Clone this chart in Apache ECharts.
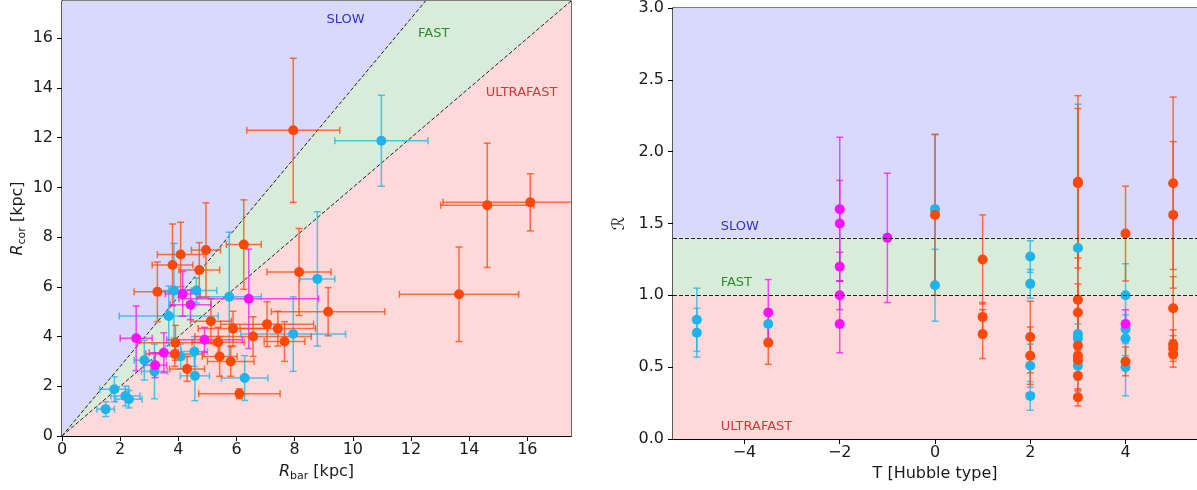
<!DOCTYPE html>
<html>
<head>
<meta charset="utf-8">
<script src="https://cdn.jsdelivr.net/npm/echarts@6/dist/echarts.min.js"></script>
<style>
  html, body { margin: 0; padding: 0; background: #fff; }
  #chart { width: 1197px; height: 490px; }
</style>
</head>
<body>
<div id="chart"></div>
<script>
// ---- Left panel: corotation radius vs bar radius, rows are [Rbar, Rcor, errRbar, errRcor] (kpc)
const barBlue = [
  [1.50, 1.08, 0.30, 0.30], [1.80, 1.88, 0.50, 0.50], [2.18, 1.61, 0.50, 0.40],
  [2.30, 1.48, 0.45, 0.35], [2.83, 3.05, 0.35, 0.80], [3.18, 2.60, 0.45, 1.10],
  [3.67, 4.83, 1.70, 1.20], [3.85, 5.85, 0.60, 1.90], [4.08, 3.20, 0.50, 0.50],
  [4.55, 3.40, 0.45, 0.60], [4.57, 2.42, 0.50, 1.00], [4.62, 5.85, 0.70, 0.50],
  [5.75, 5.60, 1.10, 2.60], [6.28, 2.33, 0.80, 0.90], [7.95, 4.10, 1.80, 1.50],
  [8.78, 6.32, 0.60, 2.70], [10.98, 11.88, 1.60, 1.83]
];
const barOrange = [
  [3.28, 5.80, 0.80, 1.20], [3.80, 6.88, 0.70, 1.65], [3.90, 3.75, 1.30, 0.70],
  [3.88, 3.30, 1.00, 0.50], [4.08, 7.30, 0.80, 1.30], [4.30, 2.70, 0.60, 0.50],
  [4.72, 6.68, 0.70, 1.10], [4.95, 7.48, 0.50, 1.90], [5.12, 4.62, 0.70, 0.90],
  [5.37, 3.77, 0.90, 0.60], [5.42, 3.20, 0.60, 0.80], [5.80, 3.00, 0.80, 0.60],
  [5.88, 4.32, 1.20, 0.70], [6.10, 1.70, 1.40, 0.20], [6.25, 7.70, 0.60, 1.80],
  [6.57, 4.00, 2.00, 0.80], [7.05, 4.50, 1.60, 0.90], [7.42, 4.32, 1.30, 0.70],
  [7.65, 3.80, 0.70, 0.80], [8.15, 6.60, 1.10, 1.75], [9.15, 5.00, 1.95, 0.97],
  [7.95, 12.30, 1.60, 2.90], [13.65, 5.70, 2.05, 1.90], [14.62, 9.28, 1.60, 2.50],
  [16.10, 9.40, 3.00, 1.15]
];
const barMagenta = [
  [2.55, 3.93, 0.55, 1.30], [3.20, 2.85, 0.40, 0.50], [3.50, 3.35, 0.50, 0.80],
  [4.15, 5.72, 0.60, 0.90], [4.42, 5.28, 0.70, 0.60], [4.90, 3.87, 1.30, 0.50],
  [6.42, 5.52, 2.40, 2.00]
];

// ---- Right panel: rows are [Hubble type T, ratio R, errR]
const typeBlue = [
  [-5, 0.83, 0.22], [-5, 0.74, 0.17], [-3.5, 0.80, 0.10], [0, 1.60, 0.52], [0, 1.07, 0.25],
  [2, 1.27, 0.11], [2, 1.08, 0.10], [2, 0.51, 0.15], [2, 0.30, 0.10],
  [3, 1.33, 1.00], [3, 0.73, 0.15], [3, 0.70, 0.10], [3, 0.51, 0.10],
  [4, 1.00, 0.22], [4, 0.765, 0.10], [4, 0.70, 0.12], [4, 0.50, 0.20]
];
const typeOrange = [
  [-3.5, 0.67, 0.15], [0, 1.56, 0.56], [1, 1.25, 0.31], [1, 0.85, 0.10], [1, 0.73, 0.17],
  [2, 0.71, 0.25], [2, 0.58, 0.20],
  [3, 1.79, 0.60], [3, 1.78, 0.52], [3, 0.97, 0.35], [3, 0.88, 0.20], [3, 0.65, 0.10],
  [3, 0.58, 0.12], [3, 0.55, 0.10], [3, 0.44, 0.10], [3, 0.29, 0.06],
  [4, 1.43, 0.33], [4, 0.54, 0.10],
  [5, 1.78, 0.60], [5, 1.56, 0.51], [5, 0.91, 0.22], [5, 0.66, 0.10], [5, 0.63, 0.09], [5, 0.59, 0.09]
];
const typeMagenta = [
  [-3.5, 0.88, 0.23], [-2, 1.60, 0.50], [-2, 1.50, 0.30], [-2, 1.20, 0.10],
  [-2, 1.00, 0.10], [-2, 0.80, 0.20], [-1, 1.40, 0.45], [4, 0.80, 0.10]
];

// ---- Regime boundaries (R = Rcor / Rbar) and axis ticks
const slowLimit = 1.4;
const fastLimit = 1.0;
const ratioMax = 3.0;
const radiusMax = 17.5;
const radiusTicks = [0, 2, 4, 6, 8, 10, 12, 14, 16];
const typeTicks = [-4, -2, 0, 2, 4];
const ratioTicks = [0, 0.5, 1.0, 1.5, 2.0, 2.5, 3.0];

const FONT = 'DejaVu Sans';
const C_BLUE = '#1cb4ea', C_ORANGE = '#ff4808', C_MAGENTA = '#ff10ff';
const F_SLOW = '#d9d9fb', F_FAST = '#d9ebd9', F_ULTRA = '#fdd9d9';

const chart = echarts.init(document.getElementById('chart'), null, { renderer: 'canvas' });

function axisCommon() {
  return {
    type: 'value',
    axisLine: { show: true, onZero: false, lineStyle: { color: '#000', width: 1.2 } },
    splitLine: { show: false },
    nameTextStyle: { fontFamily: FONT, fontSize: 16, color: '#1a1a1a' }
  };
}

// error bars drawn with caps; xy = true draws both directions
function errorBarSeries(data, color, xi, yi, xy) {
  return {
    type: 'custom',
    xAxisIndex: xi, yAxisIndex: yi,
    data: data,
    encode: { x: 0, y: 1 },
    clip: true,
    z: 3,
    renderItem: function (params, api) {
      const x = api.value(0), y = api.value(1);
      const cap = 3.5;
      const style = { stroke: color, lineWidth: 1.5, opacity: 0.75 };
      const kids = [];
      if (xy) {
        const ex = api.value(2), ey = api.value(3);
        const l = api.coord([x - ex, y]), r = api.coord([x + ex, y]);
        const t = api.coord([x, y + ey]), b = api.coord([x, y - ey]);
        kids.push({ type: 'line', shape: { x1: l[0], y1: l[1], x2: r[0], y2: r[1] }, style });
        kids.push({ type: 'line', shape: { x1: l[0], y1: l[1] - cap, x2: l[0], y2: l[1] + cap }, style });
        kids.push({ type: 'line', shape: { x1: r[0], y1: r[1] - cap, x2: r[0], y2: r[1] + cap }, style });
        kids.push({ type: 'line', shape: { x1: t[0], y1: t[1], x2: b[0], y2: b[1] }, style });
        kids.push({ type: 'line', shape: { x1: t[0] - cap, y1: t[1], x2: t[0] + cap, y2: t[1] }, style });
        kids.push({ type: 'line', shape: { x1: b[0] - cap, y1: b[1], x2: b[0] + cap, y2: b[1] }, style });
      } else {
        const ey = api.value(2);
        const t = api.coord([x, y + ey]), b = api.coord([x, y - ey]);
        kids.push({ type: 'line', shape: { x1: t[0], y1: t[1], x2: b[0], y2: b[1] }, style });
        kids.push({ type: 'line', shape: { x1: t[0] - cap, y1: t[1], x2: t[0] + cap, y2: t[1] }, style });
        kids.push({ type: 'line', shape: { x1: b[0] - cap, y1: b[1], x2: b[0] + cap, y2: b[1] }, style });
      }
      return { type: 'group', children: kids };
    }
  };
}

function pointSeries(data, color, xi, yi) {
  return {
    type: 'scatter',
    xAxisIndex: xi, yAxisIndex: yi,
    data: data,
    encode: { x: 0, y: 1 },
    symbol: 'circle',
    symbolSize: 10,
    itemStyle: { color: color, opacity: 1 },
    z: 4,
    silent: true
  };
}

// regime wedges in the Rbar–Rcor plane, bounded by the lines Rcor = k * Rbar
const wedges = [
  { pts: [[0, 0], [0, radiusMax], [radiusMax / slowLimit, radiusMax]], fill: F_SLOW },
  { pts: [[0, 0], [radiusMax / slowLimit, radiusMax], [radiusMax / fastLimit, radiusMax]], fill: F_FAST },
  { pts: [[0, 0], [radiusMax, radiusMax], [radiusMax, 0]], fill: F_ULTRA }
];

function regimeLabel(coord, text, color, align) {
  return {
    coord: coord, value: text, symbol: 'circle', symbolSize: 0,
    label: { show: true, position: 'inside', formatter: text, color: color,
             fontFamily: FONT, fontSize: 13, align: align || 'center' }
  };
}

const subRich = {
  i: { fontFamily: FONT, fontSize: 16, fontStyle: 'italic', color: '#1a1a1a', lineHeight: 18, padding: [0, 0, 3, 0], verticalAlign: 'top' },
  n: { fontFamily: FONT, fontSize: 16, color: '#1a1a1a', lineHeight: 18, padding: [0, 0, 3, 0], verticalAlign: 'top' },
  s: { fontFamily: FONT, fontSize: 11, color: '#1a1a1a', lineHeight: 11, verticalAlign: 'bottom' }
};

const option = {
  animation: false,
  backgroundColor: '#fff',
  grid: [
    { left: 62, top: 1, width: 509, height: 435, show: true, borderColor: '#000', borderWidth: 1.2, backgroundColor: 'transparent' },
    { left: 673, top: 8, width: 525, height: 431, show: true, borderColor: '#000', borderWidth: 1.2, backgroundColor: 'transparent' }
  ],
  xAxis: [
    Object.assign(axisCommon(), {
      gridIndex: 0, min: 0, max: radiusMax,
      axisTick: { show: true, length: 5, customValues: radiusTicks, lineStyle: { color: '#000', width: 1 } },
      axisLabel: { customValues: radiusTicks, fontFamily: FONT, fontSize: 16, color: '#1a1a1a', margin: 6 },
      name: '{i|R}{s|bar}{n| [kpc]}', nameLocation: 'middle', nameGap: 28,
      nameTextStyle: { fontFamily: FONT, fontSize: 16, color: '#1a1a1a', rich: subRich }
    }),
    Object.assign(axisCommon(), {
      gridIndex: 1, min: -5.5, max: 5.5,
      axisTick: { show: true, length: 5, customValues: typeTicks, lineStyle: { color: '#000', width: 1 } },
      axisLabel: { customValues: typeTicks, fontFamily: FONT, fontSize: 16, color: '#1a1a1a', margin: 6,
                   formatter: v => String(v).replace('-', '\u2212') },
      name: 'T [Hubble type]', nameLocation: 'middle', nameGap: 25
    })
  ],
  yAxis: [
    Object.assign(axisCommon(), {
      gridIndex: 0, min: 0, max: radiusMax,
      axisTick: { show: true, length: 5, customValues: radiusTicks, lineStyle: { color: '#000', width: 1 } },
      axisLabel: { customValues: radiusTicks, fontFamily: FONT, fontSize: 16, color: '#1a1a1a', margin: 9 },
      name: '{i|R}{s|cor}{n| [kpc]}', nameLocation: 'middle', nameGap: 32,
      nameTextStyle: { fontFamily: FONT, fontSize: 16, color: '#1a1a1a', rich: subRich }
    }),
    Object.assign(axisCommon(), {
      gridIndex: 1, min: 0, max: ratioMax,
      axisTick: { show: true, length: 5, customValues: ratioTicks, lineStyle: { color: '#000', width: 1 } },
      axisLabel: { customValues: ratioTicks, fontFamily: FONT, fontSize: 16, color: '#1a1a1a', margin: 9,
                   formatter: v => v.toFixed(1) },
      name: '\u211B', nameLocation: 'middle', nameGap: 45,
      nameTextStyle: { fontFamily: FONT, fontSize: 17, color: '#1a1a1a' }
    })
  ],
  series: [
    // left: regime wedges
    {
      type: 'custom', xAxisIndex: 0, yAxisIndex: 0, z: 1, silent: true, clip: true,
      data: wedges.map((w, i) => [i]),
      renderItem: function (params, api) {
        const w = wedges[params.dataIndex];
        return { type: 'polygon', shape: { points: w.pts.map(p => api.coord(p)) }, style: { fill: w.fill } };
      },
      markPoint: {
        silent: true,
        data: [
          regimeLabel([9.75, 16.75], 'SLOW', '#3232c8'),
          regimeLabel([12.78, 16.2], 'FAST', '#2e8b2e'),
          regimeLabel([15.8, 13.8], 'ULTRAFAST', '#d23a3a')
        ]
      }
    },
    // left: boundary lines
    {
      type: 'line', xAxisIndex: 0, yAxisIndex: 0, z: 2, silent: true, symbol: 'none',
      data: [[0, 0], [radiusMax / slowLimit, radiusMax]],
      lineStyle: { color: '#222', width: 1, type: [4, 2] }
    },
    {
      type: 'line', xAxisIndex: 0, yAxisIndex: 0, z: 2, silent: true, symbol: 'none',
      data: [[0, 0], [radiusMax / fastLimit, radiusMax]],
      lineStyle: { color: '#222', width: 1, type: [4, 2] }
    },
    errorBarSeries(barBlue, C_BLUE, 0, 0, true),
    pointSeries(barBlue, C_BLUE, 0, 0),
    errorBarSeries(barOrange, C_ORANGE, 0, 0, true),
    pointSeries(barOrange, C_ORANGE, 0, 0),
    errorBarSeries(barMagenta, C_MAGENTA, 0, 0, true),
    pointSeries(barMagenta, C_MAGENTA, 0, 0),

    // right: regime bands and boundaries
    {
      type: 'line', xAxisIndex: 1, yAxisIndex: 1, z: 1, silent: true, symbol: 'none', data: [],
      markArea: {
        silent: true,
        data: [
          [{ yAxis: slowLimit, itemStyle: { color: F_SLOW } }, { yAxis: ratioMax }],
          [{ yAxis: fastLimit, itemStyle: { color: F_FAST } }, { yAxis: slowLimit }],
          [{ yAxis: 0, itemStyle: { color: F_ULTRA } }, { yAxis: fastLimit }]
        ]
      },
      markLine: {
        silent: true, symbol: 'none', label: { show: false },
        lineStyle: { color: '#222', width: 1, type: [4, 2] },
        data: [{ yAxis: slowLimit }, { yAxis: fastLimit }]
      },
      markPoint: {
        silent: true,
        data: [
          regimeLabel([-4.5, 1.48], 'SLOW', '#3232c8', 'left'),
          regimeLabel([-4.5, 1.085], 'FAST', '#2e8b2e', 'left'),
          regimeLabel([-4.5, 0.088], 'ULTRAFAST', '#d23a3a', 'left')
        ]
      }
    },
    errorBarSeries(typeBlue, C_BLUE, 1, 1, false),
    pointSeries(typeBlue, C_BLUE, 1, 1),
    errorBarSeries(typeOrange, C_ORANGE, 1, 1, false),
    pointSeries(typeOrange, C_ORANGE, 1, 1),
    errorBarSeries(typeMagenta, C_MAGENTA, 1, 1, false),
    pointSeries(typeMagenta, C_MAGENTA, 1, 1)
  ]
};

chart.setOption(option);
</script>
</body>
</html>
